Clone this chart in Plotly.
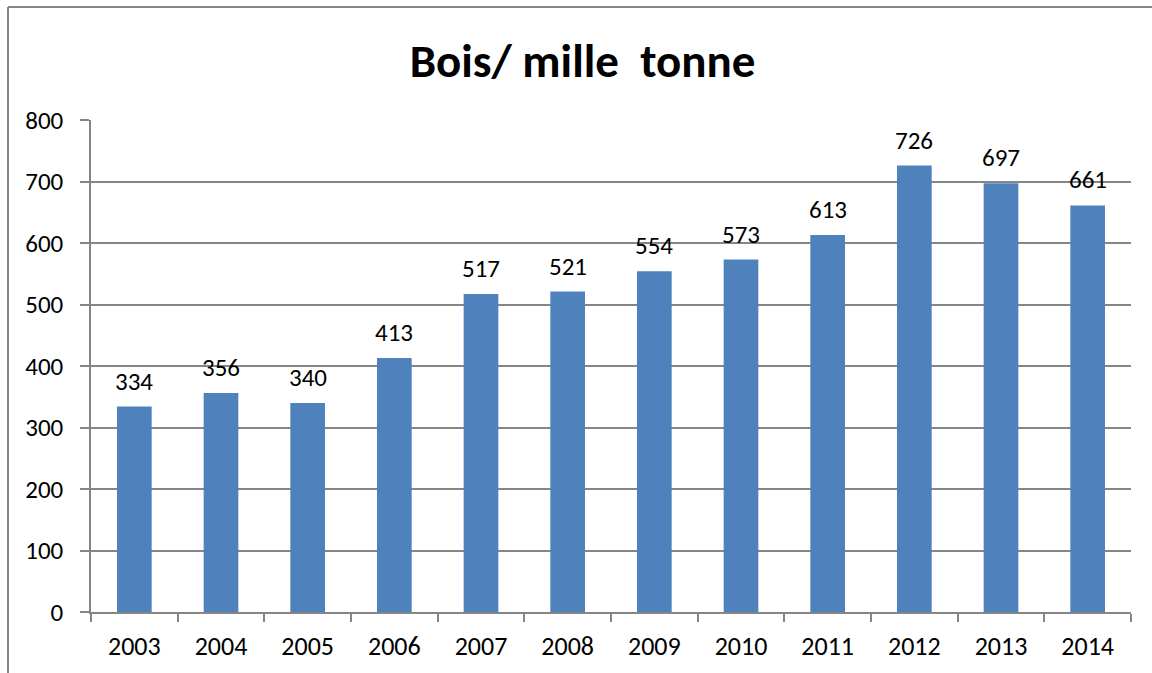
import plotly.graph_objects as go

# data
years = ['2003', '2004', '2005', '2006', '2007', '2008',
         '2009', '2010', '2011', '2012', '2013', '2014']
bois = [334, 356, 340, 413, 517, 521, 554, 573, 613, 726, 697, 661]

W, H = 1152, 673
L, R, T, B = 91, 21, 120, 61
grey = '#868686'
font_family = 'Carlito, Calibri, "Open Sans", sans-serif'

fig = go.Figure()
fig.add_trace(
    go.Bar(
        x=years,
        y=bois,
        marker=dict(color='#4F81BD', line=dict(width=0)),
        cliponaxis=False,
    )
)

# value labels above the bars (x given as category index)
for i, v in enumerate(bois):
    fig.add_annotation(
        x=i, y=v, text=str(v), showarrow=False,
        yanchor='bottom', yshift=8,
        font=dict(size=25, color='black', family=font_family),
    )

fig.update_yaxes(
    range=[0, 800],
    dtick=100,
    showgrid=True,
    gridcolor=grey,
    gridwidth=1.5,
    showline=True,
    linecolor=grey,
    linewidth=1.5,
    ticks='outside',
    ticklen=9,
    tickcolor=grey,
    tickwidth=1.5,
    ticklabelstandoff=12,
    tickfont=dict(size=25, color='black', family=font_family),
    zeroline=False,
)
fig.update_xaxes(
    type='category',
    range=[-0.5, len(years) - 0.5],
    showline=True,
    linecolor=grey,
    linewidth=1.5,
    ticks='outside',
    tickson='boundaries',
    ticklen=8,
    tickcolor=grey,
    tickwidth=1.5,
    ticklabelstandoff=10,
    tickangle=0,
    tickfont=dict(size=26, color='black', family=font_family),
    showgrid=False,
)

# outer chart frame (only top and left edges visible in the crop)
pw, ph = W - L - R, H - T - B
x0 = (8 - L) / pw
y0 = (H - B - 7) / ph
fig.add_shape(type='line', xref='paper', yref='paper',
              x0=x0, x1=2, y0=y0, y1=y0, line=dict(color=grey, width=2))
fig.add_shape(type='line', xref='paper', yref='paper',
              x0=x0, x1=x0, y0=y0, y1=-2, line=dict(color=grey, width=2))

fig.update_layout(
    title=dict(
        text='<b>Bois/ mille  tonne</b>',
        x=(583 - 0.5) / W, xanchor='center',
        y=1 - 61 / H, yanchor='middle',
        font=dict(size=47, color='black', family=font_family),
    ),
    width=W, height=H,
    margin=dict(l=L, r=R, t=T, b=B, autoexpand=False),
    bargap=0.6,
    showlegend=False,
    paper_bgcolor='white',
    plot_bgcolor='white',
)

# drop the default page margin so the figure sits at the window origin
fig.write_html('out.html', config={'displayModeBar': False},
               post_script="document.body.style.margin='0';")
